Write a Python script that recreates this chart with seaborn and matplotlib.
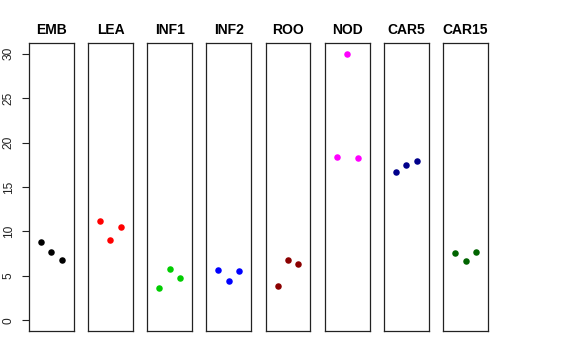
import matplotlib
matplotlib.use("Agg")
import matplotlib.pyplot as plt
import pandas as pd
import seaborn as sns

# tissues and three replicate values each
tissues = ["EMB", "LEA", "INF1", "INF2", "ROO", "NOD", "CAR5", "CAR15"]
emb = [8.84, 7.65, 6.78]
lea = [11.13, 9.03, 10.53]
inf1 = [3.67, 5.73, 4.80]
inf2 = [5.69, 4.42, 5.58]
roo = [3.82, 6.78, 6.37]
nod = [18.37, 29.99, 18.29]
car5 = [16.68, 17.50, 17.92]
car15 = [7.61, 6.63, 7.69]
colors = ["#000000", "#FF0000", "#00CD00", "#0000FF",
          "#8B0000", "#FF00FF", "#00008B", "#006400"]
yticks = [0, 5, 10, 15, 20, 25, 30]

values = [emb, lea, inf1, inf2, roo, nod, car5, car15]

sns.set_style("white")
plt.rcParams["font.family"] = ["Liberation Sans", "DejaVu Sans"]

fig, axes = plt.subplots(1, 8, figsize=(5.76, 3.6), dpi=100, sharey=True)
fig.subplots_adjust(left=0.0503, right=0.847, top=0.8806, bottom=0.0806, wspace=0.324)

for i, (ax, name, vals, col) in enumerate(zip(axes, tissues, values, colors)):
    d = pd.DataFrame({"rep": [1, 2, 3], "val": vals})
    sns.scatterplot(data=d, x="rep", y="val", ax=ax, color=col, s=22,
                    linewidth=0, legend=False)
    ax.set_xlim(-0.16, 4.16)
    ax.set_ylim(-1.2, 31.2)
    ax.set_xticks([])
    ax.set_xlabel("")
    ax.set_ylabel("")
    ax.set_title(name, fontsize=10, fontweight="bold", pad=6.5, color="black")
    for sp in ax.spines.values():
        sp.set_visible(True)
        sp.set_color("#222222")
        sp.set_linewidth(0.9)
    if i == 0:
        ax.set_yticks(yticks)
        ax.tick_params(axis="y", left=True, length=5.3, width=0.8, pad=5,
                       labelsize=8.6, labelrotation=90, colors="#222222")
        for lab in ax.get_yticklabels():
            lab.set_va("center")
    else:
        ax.tick_params(axis="y", left=False, labelleft=False)

fig.savefig("out.png", dpi=100)
